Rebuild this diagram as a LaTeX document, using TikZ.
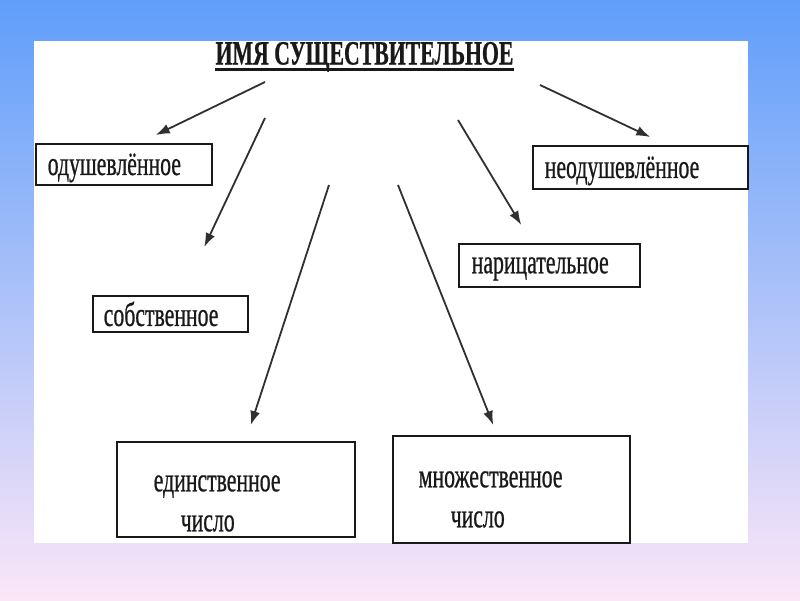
\documentclass[tikz,border=0pt]{standalone}
\usepackage{fontspec}
\newfontfamily\slidefont{Liberation Serif}[FakeStretch=0.64, FakeBold=0.6]
\usetikzlibrary{arrows.meta, positioning}
\definecolor{skytop}{RGB}{95,158,250}
\definecolor{skybottom}{RGB}{251,230,248}
\definecolor{ink}{RGB}{25,25,25}

\begin{document}
\begin{tikzpicture}[
	x=1pt, y=-1pt,
	>={Latex[length=14pt,width=10pt]},
	font=\slidefont\fontsize{34}{40}\selectfont,
	% Styles
	box/.style={draw=ink, line width=1.5pt, fill=white, text=ink, align=left, anchor=north west, inner xsep=12pt, inner ysep=0pt},
	header/.style={font=\slidefont\bfseries\fontsize{34}{36}\selectfont, text=ink, inner xsep=0pt},
	link/.style={->, draw=ink!90, line width=1.8pt}
	]
	
	% ==========================================
	% Slide background and white panel
	% ==========================================
	\useasboundingbox (0,0) rectangle (800,600);
	\shade[top color=skytop, bottom color=skybottom] (0,0) rectangle (800,600);
	\fill[white] (34,41) rectangle (748,543);
	
	% Title
	\node[header, anchor=base] (title) at (364.5,64.5) {ИМЯ СУЩЕСТВИТЕЛЬНОЕ};
	\draw[ink, line width=2.4pt] ([yshift=-5pt]title.base west) -- ([yshift=-5pt]title.base east);
	
	% ==========================================
	% Boxes
	% ==========================================
	\node[box, text width=152pt, minimum height=41pt, text depth=0pt] (anim) at (35,143) {одушевлённое};
	\node[box, text width=191pt, minimum height=43pt, text depth=0pt] (inanim) at (532,145) {неодушевлённое};
	\node[box, text width=155pt, inner xsep=13pt, minimum height=43pt, text depth=0pt] (common) at (458,243) {нарицательное};
	\node[box, text width=133pt, inner xsep=11pt, minimum height=36pt, text depth=0pt] (proper) at (92,295) {собственное};
	\node[box, text width=164pt, inner xsep=37pt, minimum height=95pt, text depth=12pt] (single) at (116,441) {единственное\\\hspace*{27pt}число};
	\node[box, text width=185pt, inner xsep=26pt, minimum height=107pt, text depth=20pt] (plural) at (392,435) {множественное\\\hspace*{32pt}число};
	
	% ==========================================
	% Arrows from the title
	% ==========================================
	\coordinate (fromAnim) at (265,82);
	\coordinate (fromProper) at (265,118);
	\coordinate (fromSingle) at (329,185);
	\coordinate (fromPlural) at (398,185);
	\coordinate (fromCommon) at (458,120);
	\coordinate (fromInanim) at (540,85);
	
	\draw[link] (fromAnim) -- ([xshift=32pt,yshift=8pt]anim.north);
	\draw[link] (fromProper) -- ([xshift=34pt,yshift=48pt]proper.north);
	\draw[link] (fromSingle) -- ([xshift=15pt,yshift=16pt]single.north);
	\draw[link] (fromPlural) -- ([xshift=-18pt,yshift=10pt]plural.north);
	\draw[link] (fromCommon) -- ([xshift=-28pt,yshift=18pt]common.north);
	\draw[link] (fromInanim) -- ([xshift=10pt,yshift=8pt]inanim.north);
	
\end{tikzpicture}
\end{document}
